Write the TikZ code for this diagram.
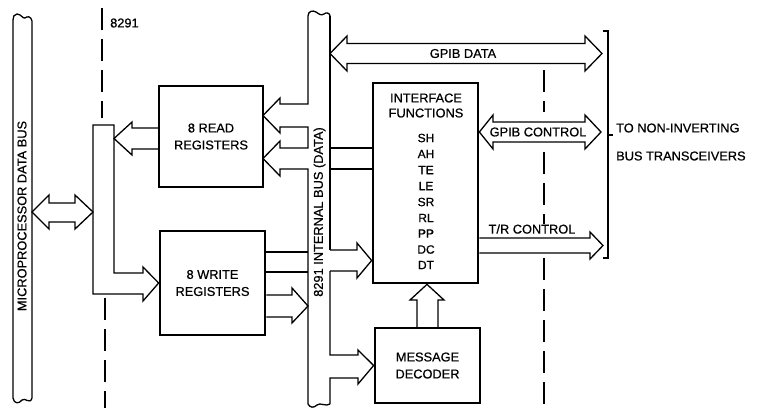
\documentclass[tikz,border=0pt]{standalone}
\usepackage{fontspec}
\setmainfont{Liberation Sans}
\newfontfamily\labfont{Liberation Sans}[FakeBold=0.6]
\newfontfamily\labboldfont{Liberation Sans}[FakeBold=2.2]
\begin{document}
\begin{tikzpicture}[x=1pt,y=-1pt,
  thinl/.style={line width=1.3pt, line join=miter, line cap=butt},
  regbox/.style={draw, line width=2.7pt, inner sep=0pt, align=center,
     font=\labfont\fontsize{12.8}{17}\selectfont},
  lbl/.style={inner sep=0pt, font=\labfont\fontsize{12.8}{15}\selectfont},
  fnl/.style={inner sep=0pt, font=\labfont\fontsize{12}{14}\selectfont},
  fnb/.style={inner sep=0pt, font=\labboldfont\fontsize{12}{14}\selectfont},
  dashl/.style={line width=1.3pt, dash pattern=on 22pt off 9pt}]
\useasboundingbox (0,0) rectangle (759,408);

% boxes
\node[regbox, minimum width=104pt, minimum height=101pt] (read) at (211,136.5) {8 READ\\REGISTERS};
\node[regbox, minimum width=105pt, minimum height=104pt] (write) at (212.5,283) {8 WRITE\\REGISTERS};
\node[regbox, minimum width=105pt, minimum height=200pt] (iface) at (425.5,183) {};
\node[regbox, minimum width=105pt, minimum height=75pt] (msg) at (427.5,365.5) {MESSAGE\\DECODER};

% interface functions text
\node[lbl] (t1) at (426,98) {INTERFACE};
\node[lbl] (t2) at (426,113) {FUNCTIONS};
\node[fnl] (f1) at (426,138) {SH};
\node[fnl] (f2) at (426,154) {AH};
\node[fnb] (f3) at (426,170) {TE};
\node[fnb] (f4) at (426,186) {LE};
\node[fnl] (f5) at (426,202) {SR};
\node[fnl] (f6) at (426,218) {RL};
\node[fnl] (f7) at (426,233.5) {PP};
\node[fnl] (f8) at (426,249.5) {DC};
\node[fnl] (f9) at (426,265) {DT};

% microprocessor data bus
\draw[thinl] (13,20) -- (13,398) .. controls (14,404) and (19,404) .. (22,400)
  .. controls (25,397) and (30,405) .. (32,398) -- (32,21)
  .. controls (31,16) and (27,16) .. (25,18) .. controls (23,19) and (21,14) .. (17,14)
  .. controls (14,14) and (13,17) .. (13,20) -- cycle;
\node[lbl, rotate=90] (mbus) at (22,216) {MICROPROCESSOR DATA BUS};

% double arrow bus <-> junction
\draw[thinl] (32,212) -- (49,195) -- (49,203) -- (75,203) -- (75,195) -- (93,212)
  -- (75,229) -- (75,222) -- (49,222) -- (49,229) -- cycle;

% junction with arrow into write registers
\draw[thinl] (143,294) -- (93,294) -- (93,125) -- (114,125) -- (114,273) -- (143,273)
  -- (143,267) -- (write.west) -- (143,301) -- cycle;

% read registers -> junction
\draw[thinl] (159,128) -- (132,128) -- (132,122) -- (114,138.5) -- (132,155) -- (132,149) -- (159,149);

% internal bus, left edge with arrows into read registers
\draw[thinl] (308,16) -- (308,104) -- (280,104) -- (280,98) -- (263,115.5) -- (280,133)
  -- (280,127) -- (308,127) -- (308,148) -- (280,148) -- (280,141) -- (263,158.5)
  -- (280,176) -- (280,169) -- (308,169) -- (308,404);
% internal bus, right edge
\draw[thinl] (330,16) -- (330,250);
\draw[thinl] (330,271) -- (330,355) -- (358,355) -- (358,350) -- (msg.west) -- (358,384)
  -- (358,378) -- (330,378) -- (330,404);
% top / bottom waves
\draw[thinl] (308,16) .. controls (308,11) and (313,10) .. (316,12)
  .. controls (319,14) and (321,16) .. (324,14) .. controls (326,12) and (330,13) .. (330,16);
\draw[thinl] (308,404) .. controls (310,408) and (314,408) .. (317,405)
  .. controls (320,402) and (326,407) .. (330,404);
\node[lbl, rotate=90] (ibus) at (319.5,212) {8291 INTERNAL BUS (DATA)};

% interface -> read (through bus)
\draw[thinl] (330,148) -- (iface.west |- 330,148);
\draw[thinl] (330,169) -- (iface.west |- 330,169);

% write registers -> interface (channel through bus)
\draw[thinl] (write.east |- 0,252) -- (308,252);
\draw[thinl] (write.east |- 0,272) -- (308,272);
\draw[thinl] (330,250) -- (357,250) -- (357,243) -- (iface.west |- 0,260.5) -- (357,278) -- (357,271) -- (330,271);

% write registers -> bus
\draw[thinl] (write.east |- 0,295) -- (292,295) -- (292,288) -- (308,306) -- (292,323)
  -- (292,317) -- (write.east |- 0,317);

% message decoder -> interface
\draw[thinl] (417,328) -- (417,300) -- (410,300) -- (iface.south -| 427,0) -- (444,300) -- (438,300) -- (438,328);

% GPIB DATA
\draw[thinl] (330,53.5) -- (347,36) -- (347,43.5) -- (585,43.5) -- (585,36) -- (602,53.5)
  -- (585,71) -- (585,63.5) -- (347,63.5) -- (347,71) -- cycle;
\node[lbl] (gd) at (463,53.5) {GPIB DATA};

% GPIB CONTROL
\draw[thinl] (iface.east |- 0,132) -- (493,115) -- (493,122) -- (585,122) -- (585,115) -- (601,132)
  -- (585,149) -- (585,142) -- (493,142) -- (493,149) -- cycle;
\node[lbl] (gc) at (538,132) {GPIB CONTROL};

% T/R CONTROL
\draw[thinl] (iface.east |- 0,238) -- (590,238) -- (590,232) -- (603,245.5) -- (590,259)
  -- (590,253) -- (iface.east |- 0,253);
\node[lbl] (tr) at (532,229) {T/R CONTROL};

% dashed boundaries
\draw[dashl] (102,8) -- (102,118);
\draw[dashl] (105,298) -- (105,408);
\draw[dashl] (544,70) -- (544,112);
\draw[dashl] (544,152) -- (544,224);
\draw[dashl] (544,258) -- (544,408);
\node[lbl, anchor=west] (n8291) at (110,23) {8291};

% bracket
\draw[thinl] (603,31) -- (608,31) -- (608,258) -- (603,258);
\draw[thinl] (608,135) -- (613,135);
\node[lbl, anchor=west] (to1) at (616,128) {TO NON-INVERTING};
\node[lbl, anchor=west] (to2) at (616,156) {BUS TRANSCEIVERS};
\end{tikzpicture}
\end{document}
